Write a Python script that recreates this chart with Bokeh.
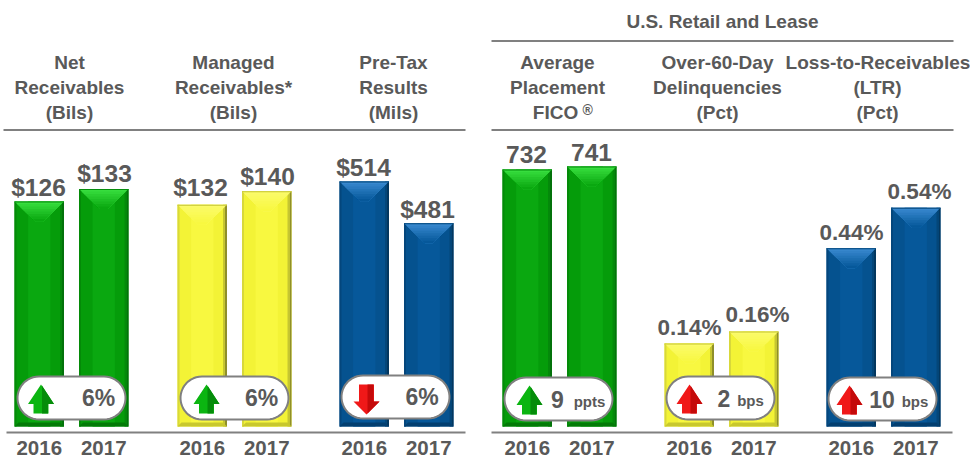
import numpy as np
from bokeh.embed import file_html
from bokeh.models import Range1d
from bokeh.plotting import figure
from bokeh.resources import INLINE
from bokeh.core.properties import value

# ---- data
years = ["2016", "2017"]
net_receivables = [126, 133]
managed_receivables = [132, 140]
pre_tax_results = [514, 481]
average_fico = [732, 741]
delinquencies = [0.14, 0.16]
loss_to_receivables = [0.44, 0.54]
net_labels = ["$126", "$133"]
managed_labels = ["$132", "$140"]
pre_tax_labels = ["$514", "$481"]
fico_labels = ["732", "741"]
delinq_labels = ["0.14%", "0.16%"]
ltr_labels = ["0.44%", "0.54%"]
headers = [
    ["Net", "Receivables", "(Bils)"],
    ["Managed", "Receivables*", "(Bils)"],
    ["Pre-Tax", "Results", "(Mils)"],
    ["Average", "Placement", "FICO"],
    ["Over-60-Day", "Delinquencies", "(Pct)"],
    ["Loss-to-Receivables", "(LTR)", "(Pct)"],
]
group_title = "U.S. Retail and Lease"

# ---- layout and style
W, H = 970, 458
BASE_PX = 426
BAR_W = 49.5
STEP = 64.5
TXT = "#595959"
FONT = value("Liberation Sans")
PAL = {
    "green": dict(base="#059C0A", light="#0AA810", edge_r="#03720A", edge_l="#048A08", top0="#3DE544", top1="#0AA810", bot="#037A07"),
    "yellow": dict(base="#F3F336", light="#F8F840", edge_r="#8F8F2A", edge_l="#D8D83A", top0="#FBFB70", top1="#F8F840", bot="#C8C82E"),
    "blue": dict(base="#05528F", light="#06589A", edge_r="#03375F", edge_l="#04467C", top0="#3F8FD6", top1="#06589A", bot="#033F70"),
}
panels = [
    dict(vals=net_receivables, labels=net_labels, left=14, col="green", y0=0, k=1.786, lx=[38, 104], ly=[14, 15],
         hx=[69, 69, 69], fs="24.5px"),
    dict(vals=managed_receivables, labels=managed_labels, left=177, col="yellow", y0=0, k=1.68, lx=[200, 267], ly=[17, 15],
         hx=[233, 233, 233], fs="24.5px"),
    dict(vals=pre_tax_results, labels=pre_tax_labels, left=339, col="blue", y0=321, k=1.27, lx=[363, 427], ly=[14, 14],
         hx=[393, 393, 393], fs="24.5px"),
    dict(vals=average_fico, labels=fico_labels, left=502, col="green", y0=0, k=0.351, lx=[526, 591], ly=[15, 14],
         hx=[557, 557, 555], fs="24.5px"),
    dict(vals=delinquencies, labels=delinq_labels, left=664, col="yellow", y0=0, k=593, lx=[689, 757], ly=[16, 17],
         hx=[717, 717, 717], fs="22.5px"),
    dict(vals=loss_to_receivables, labels=ltr_labels, left=826, col="blue", y0=0, k=405, lx=[851, 919], ly=[16, 16],
         hx=[877.5, 877, 877], fs="22.5px"),
]
badges = [
    dict(l=17, t=376, ax=40.5, up=True, col="g", big="6%", bx=98, small=None),
    dict(l=180, t=376, ax=206, up=True, col="g", big="6%", bx=261, small=None),
    dict(l=341, t=375, ax=366, up=False, col="r", big="6%", bx=421.5, small=None),
    dict(l=504, t=377, ax=529, up=True, col="g", big="9", bx=557, small="ppts", sx=589),
    dict(l=666, t=376, ax=689, up=True, col="r", big="2", bx=723.5, small="bps", sx=750),
    dict(l=828, t=377, ax=849, up=True, col="r", big="10", bx=881.5, small="bps", sx=914.5),
]
ARROW = {"g": ("#0BB511", "#058C0A"), "r": ("#F01818", "#C40A0A")}

p = figure(width=W, height=H, x_range=Range1d(0, W), y_range=Range1d(H, 0),
           x_axis_type=None, y_axis_type=None, toolbar_location=None,
           output_backend="svg", min_border=0, outline_line_color=None,
           background_fill_color="white", border_fill_color="white")
p.grid.visible = False


def lerp(a, b, t):
    ca = [int(a[i:i + 2], 16) for i in (1, 3, 5)]
    cb = [int(b[i:i + 2], 16) for i in (1, 3, 5)]
    return "#%02x%02x%02x" % tuple(int(round(x + (y - x) * t)) for x, y in zip(ca, cb))


for n, pn in enumerate(panels):
    rn = f"panel{n}"
    k, y0 = pn["k"], pn["y0"]
    p.extra_y_ranges[rn] = Range1d(y0 - (H - BASE_PX) / k, y0 + BASE_PX / k)
    c = PAL[pn["col"]]
    for i, v in enumerate(pn["vals"]):
        l = pn["left"] + i * STEP
        r = l + BAR_W
        cx = (l + r) / 2
        # body
        p.vbar(x=[cx], width=BAR_W, bottom=[y0], top=[v], fill_color=c["base"], line_color=None, y_range_name=rn)
        # horizontal shading strips
        p.vbar(x=[cx], width=BAR_W * 0.45, bottom=[y0], top=[v], fill_color=c["light"], line_color=None, y_range_name=rn)
        p.vbar(x=[l + 1], width=2, bottom=[y0], top=[v], fill_color=c["edge_l"], line_color=None, y_range_name=rn)
        p.vbar(x=[r - 1], width=2, bottom=[y0], top=[v], fill_color=c["edge_r"], line_color=None, y_range_name=rn)
        p.vbar(x=[r - 3], width=2, bottom=[y0], top=[v], fill_color=lerp(c["edge_r"], c["base"], 0.55), line_color=None, y_range_name=rn)
        # bottom bevel
        p.patch([l, r, r - 4, l + 4], [y0, y0, y0 + 4 / k, y0 + 4 / k], fill_color=c["bot"], line_color=None, y_range_name=rn)
        # top bevel: nested trapezoids, lighter at the top
        depth, slices = 20.0, 8
        xd = depth * 1.05
        for s in range(slices):
            a = s / slices
            xa = a * xd
            p.patch([l + xa, r - xa, r - xd, l + xd],
                    [v - a * depth / k, v - a * depth / k, v - depth / k, v - depth / k],
                    fill_color=lerp(c["top0"], c["top1"], (s + 1) / slices), line_color=None, y_range_name=rn)
        p.vbar(x=[cx], width=BAR_W, bottom=[v - 1 / k], top=[v], fill_color=lerp(c["top1"], c["edge_r"], 0.5), line_color=None, y_range_name=rn)
        # value label
        p.text(x=[pn["lx"][i]], y=[v], text=[pn["labels"][i]], y_offset=[-pn["ly"][i]],
               text_font=FONT, text_font_style="bold", text_font_size=pn["fs"], text_color=TXT,
               text_align="center", text_baseline="middle", y_range_name=rn)
        # year label
        p.text(x=[l + BAR_W / 2], y=[447], text=[years[i]], text_font=FONT, text_font_style="bold",
               text_font_size="20.5px", text_color=TXT, text_align="center", text_baseline="middle")
    for j, line in enumerate(headers[n]):
        p.text(x=[pn["hx"][j]], y=[61.5 + j * 25], text=[line], text_font=FONT, text_font_style="bold",
               text_font_size="19px", text_color=TXT, text_align="center", text_baseline="middle")

p.text(x=[582], y=[109], text=["\u00ae"], text_font=FONT, text_font_style="bold", text_font_size="14px",
       text_color=TXT, text_align="left", text_baseline="middle")
p.text(x=[722], y=[21], text=[group_title], text_font=FONT, text_font_style="bold", text_font_size="19px",
       text_color=TXT, text_align="center", text_baseline="middle")

# rules
for x0, x1, y in [(3, 465, 129.5), (491, 953, 129.5), (491, 953, 40.5), (6, 465, 432), (491, 952, 432)]:
    p.line([x0, x1], [y, y], line_color="#808080", line_width=2)

# badges
PW, PH = 108, 43
th = np.linspace(-np.pi / 2, np.pi / 2, 24)
for b in badges:
    l, t = b["l"], b["t"]
    rad = PH / 2
    cy = t + rad
    xs = np.r_[l + PW - rad + rad * np.cos(th), l + rad - rad * np.cos(th[::-1])]
    ys = np.r_[cy + rad * np.sin(th), cy + rad * np.sin(th[::-1])]
    p.patch(xs, ys, fill_color="white", line_color="#808080", line_width=2)
    ax = b["ax"]
    light, dark = ARROW[b["col"]]
    if b["up"]:
        tip, head, end = t + 8, t + 27.5, t + 37
        p.patch([ax, ax + 13, ax + 7.5, ax + 7.5, ax - 7.5, ax - 7.5, ax - 13],
                [tip, head, head, end, end, head, head], fill_color=light, line_color=None)
        p.patch([ax + 1, ax + 13, ax + 7, ax + 7, ax + 1], [tip + 1, head, head, end, end],
                fill_color=dark, line_color=None)
    else:
        tip, head, end = t + 39, t + 26, t + 9
        p.patch([ax, ax + 13, ax + 7.5, ax + 7.5, ax - 7.5, ax - 7.5, ax - 13],
                [tip, head, head, end, end, head, head], fill_color=light, line_color=None)
        p.patch([ax + 1, ax + 7, ax + 7, ax + 13, ax + 1], [end, end, head, head, tip - 1],
                fill_color=dark, line_color=None)
    p.text(x=[b["bx"]], y=[cy], text=[b["big"]], text_font=FONT, text_font_style="bold", text_font_size="23px",
           text_color=TXT, text_align="center", text_baseline="middle")
    if b["small"]:
        p.text(x=[b["sx"]], y=[cy + 2.5], text=[b["small"]], text_font=FONT, text_font_style="bold",
               text_font_size="15px", text_color=TXT, text_align="center", text_baseline="middle")

open("out.html", "w").write(file_html(p, INLINE))
